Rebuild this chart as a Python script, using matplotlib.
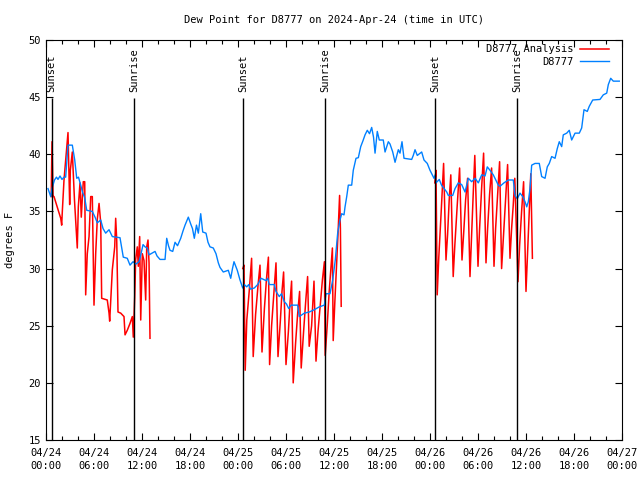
import matplotlib
matplotlib.use("Agg")
import matplotlib.pyplot as plt
import numpy as np

# hours since 2024-04-24 00:00 UTC
obs_hours = [0.25, 0.59, 0.75, 1.06, 1.31, 1.5, 1.75, 2.0, 2.25, 2.46, 2.75, 3.29, 3.59, 3.84,
             4.06, 4.34, 4.56, 4.84, 5.09, 5.79, 6.13, 6.41, 6.84, 7.13, 7.46, 7.88, 8.29, 9.25,
             9.66, 10.16, 10.5, 10.88, 11.25, 11.63, 11.88, 12.13, 12.38, 12.66, 12.88, 13.63,
             13.88, 14.25, 14.88, 15.09, 15.31, 15.5, 15.84, 16.13, 16.44, 16.84, 17.13, 17.38,
             17.79, 18.09, 18.31, 18.54, 18.81, 19.04, 19.34, 19.59, 20.0, 20.25, 20.5, 20.91,
             21.25, 21.54, 21.75, 22.16, 22.79, 23.09, 23.31, 23.5, 23.91, 24.25, 24.59, 24.79,
             25.09, 25.34, 25.56, 26.04, 26.46, 26.88, 27.5, 27.71, 27.91, 28.54, 28.75, 29.16,
             29.44, 29.79, 30.06, 30.34, 30.63, 31.46, 31.66, 32.29, 32.91, 33.54, 34.16, 34.79,
             35.0, 35.5, 35.84, 36.16, 36.46, 36.75, 36.96, 37.25, 37.38, 37.59, 37.79, 38.21,
             38.41, 38.75, 39.04, 39.34, 39.63, 39.88, 40.16, 40.44, 40.71, 40.94, 41.13, 41.41,
             41.66, 42.16, 42.38, 42.79, 43.0, 43.34, 43.63, 44.04, 44.25, 44.5, 44.75, 45.71,
             45.91, 46.13, 46.41, 46.96, 47.25, 47.66, 48.0, 48.5, 48.66, 48.75, 49.16, 49.44,
             50.09, 50.29, 50.84, 51.13, 51.54, 51.96, 52.38, 52.79, 53.21, 53.63, 54.04, 54.46,
             54.88, 55.16, 55.5, 55.91, 56.54, 56.75, 57.25, 57.79, 58.41, 58.63, 58.91, 59.25,
             59.59, 59.88, 60.09, 60.29, 60.5, 60.71, 61.13, 61.34, 61.66, 61.96, 62.38, 62.66,
             62.91, 63.21, 63.63, 63.91, 64.16, 64.46, 64.66, 65.09, 65.41, 65.71, 66.13, 66.66,
             66.96, 67.25, 67.66, 67.91, 68.34, 69.25, 69.66, 70.09, 70.29, 70.59, 70.91, 71.66]
obs_dewpt = [37.0, 36.3, 37.0, 37.75, 38.0, 37.8, 38.1, 37.8, 38.0, 38.0, 40.8, 40.8, 39.5, 37.9,
             38.0, 37.3, 36.7, 36.2, 35.1, 35.0, 34.5, 34.0, 34.25, 33.5, 33.1, 33.4, 32.8, 32.7,
             31.0, 30.9, 30.3, 30.6, 30.4, 30.6, 31.3, 32.1, 31.9, 31.8, 31.2, 31.5,
             31.1, 30.8, 30.8, 32.65, 32.0, 31.6, 31.5, 32.3, 32.0, 32.65, 33.3, 33.8,
             34.5, 33.9, 33.5, 32.65, 33.8, 33.1, 34.8, 33.2, 33.1, 32.3, 31.9, 31.8,
             31.3, 30.5, 30.1, 29.7, 29.85, 29.15, 30.0, 30.6, 29.85, 29.0, 28.3, 28.6,
             28.4, 28.6, 28.2, 28.3, 28.6, 29.15, 28.95, 29.15, 28.6, 28.6, 28.0, 27.55,
             27.8, 27.1, 26.9, 26.5, 26.8, 26.8, 25.8, 26.1, 26.2, 26.4, 26.65, 26.8,
             27.8, 27.8, 29.0, 30.75, 33.1, 34.25, 34.8, 34.7, 35.4, 36.3, 37.3, 37.3,
             38.6, 39.65, 39.7, 40.67, 41.2, 41.7, 42.1, 41.8, 42.35, 41.5, 40.1, 42.0,
             41.25, 41.25, 40.2, 41.1, 40.9, 40.2, 39.3, 40.4, 40.1, 41.1, 39.65, 39.55,
             39.9, 40.4, 39.9, 40.2, 39.5, 39.2, 38.6, 37.9, 38.2, 37.5, 37.8, 37.3,
             36.7, 36.4, 36.4, 37.0, 37.5, 37.35, 36.7, 37.9, 37.6, 37.9, 37.5, 38.2,
             38.1, 38.9, 38.6, 38.2, 37.3, 37.2, 37.5, 37.75, 37.75, 36.4, 36.1, 36.6,
             36.3, 35.85, 35.4, 35.85, 37.0, 39.05, 39.2, 39.2, 39.2, 38.05, 37.9, 38.9,
             39.2, 39.8, 39.65, 40.5, 41.1, 40.67, 41.7, 41.85, 42.1, 41.25, 41.85, 41.85,
             42.3, 43.9, 43.75, 44.2, 44.75, 44.8, 45.2, 45.35, 46.1, 46.65, 46.4, 46.4]

# analysis series, three separate runs (NaN = gap)
ana_hours = [0.65, 0.75, 0.88, 1.0, 1.84, 1.96, 2.04, 2.25, 2.54, 2.75, 2.96, 3.04, 3.29, 3.56,
             3.91, 4.04, 4.25, 4.41, 4.66, 4.84, 4.96, 5.16, 5.38, 5.59, 5.79, 6.0, 6.21, 6.41,
             6.63, 6.84, 6.96, 7.66, 7.88, 7.96, 8.29, 8.59, 8.71, 8.84, 9.0, 9.34, 9.75, 9.88,
             10.16, 10.5, 10.79, 10.91, 11.09, 11.21, 11.41, 11.54, 11.71, 11.84, 12.04, 12.25,
             12.46, 12.59, 12.75, 12.88, 13.0,
             18.0,
             24.6, 24.75, 24.9, 25.1, 25.4, 25.7, 25.9, 26.2, 26.5, 26.75, 27.0, 27.3, 27.55,
             27.8, 27.95, 28.2, 28.5, 28.75, 29.0, 29.3, 29.5, 29.7, 30.0, 30.3, 30.5, 30.7,
             30.9, 31.2, 31.45, 31.7, 31.9, 32.2, 32.45, 32.7, 32.9, 33.2, 33.5, 33.75, 34.0,
             34.3, 34.55, 34.8, 34.9, 35.15, 35.4, 35.8, 35.9, 36.1, 36.3, 36.5, 36.7, 36.8, 36.9,
             42.0,
             48.6, 48.75, 48.9, 49.1, 49.4, 49.7, 50.0, 50.2, 50.4, 50.6, 50.9, 51.1, 51.4, 51.7,
             52.0, 52.2, 52.45, 52.7, 53.0, 53.2, 53.4, 53.6, 54.0, 54.2, 54.45, 54.7, 55.0,
             55.2, 55.45, 55.7, 56.0, 56.2, 56.45, 56.7, 56.95, 57.2, 57.45, 57.7, 58.0, 58.2,
             58.4, 58.6, 59.0, 59.2, 59.45, 59.7, 60.0, 60.2, 60.4, 60.6, 60.8]
ana_dewpt = [36.3, 41.1, 36.3, 36.3, 34.4, 33.8, 35.0, 37.75, 40.1, 41.9, 35.6, 38.6, 40.2, 36.0,
             31.8, 35.4, 37.5, 34.5, 37.6, 37.6, 27.7, 31.3, 32.8, 36.3, 36.3, 26.8, 31.3, 34.3,
             35.7, 34.0, 27.4, 27.25, 26.1, 25.4, 29.9, 31.9, 34.4, 32.5, 26.2, 26.1, 25.8, 24.2,
             24.6, 25.2, 25.8, 24.0, 27.5, 30.8, 31.9, 30.2, 32.8, 25.5, 31.3, 30.7,
             27.25, 31.9, 32.5, 30.5, 23.9,
             np.nan,
             30.0, 30.3, 21.1, 25.5, 28.0, 30.9, 22.3, 26.0, 28.5, 30.3, 22.7, 26.5, 29.0,
             31.0, 21.6, 25.0, 28.0, 30.5, 22.3, 25.5, 28.0, 29.7, 21.6, 24.5, 27.0, 28.9,
             20.0, 23.5, 26.0, 28.0, 21.3, 24.5, 27.0, 29.3, 23.2, 25.0, 28.9, 21.9, 24.5,
             27.0, 29.0, 30.6, 22.4, 25.0, 28.0, 31.8, 23.7, 27.0, 30.0, 33.0, 36.4, 33.5, 26.7,
             np.nan,
             37.5, 38.6, 27.7, 31.0, 35.0, 39.2, 30.75, 33.0, 36.0, 38.2, 29.3, 32.0, 35.5, 38.8,
             30.75, 33.0, 36.0, 37.9, 29.3, 33.0, 36.5, 39.9, 30.2, 33.5, 37.0, 40.1, 30.5,
             33.5, 36.5, 38.8, 30.2, 33.5, 36.5, 39.35, 30.0, 33.0, 36.0, 39.1, 30.9, 33.5,
             35.5, 37.9, 28.85, 32.0, 35.0, 37.6, 28.0, 31.5, 35.0, 38.3, 30.9]

sun_hours = [0.71, 11.04, 24.67, 34.92, 48.67, 58.92]
sun_labels = ["Sunset", "Sunrise", "Sunset", "Sunrise", "Sunset", "Sunrise"]

tick_hours = list(range(0, 73, 6))
tick_labels = ["04/24\n00:00", "04/24\n06:00", "04/24\n12:00", "04/24\n18:00",
               "04/25\n00:00", "04/25\n06:00", "04/25\n12:00", "04/25\n18:00",
               "04/26\n00:00", "04/26\n06:00", "04/26\n12:00", "04/26\n18:00",
               "04/27\n00:00"]

plt.rcParams["font.family"] = "DejaVu Sans Mono"
plt.rcParams["font.size"] = 7.5

fig = plt.figure(figsize=(6.4, 4.8), dpi=100)
ax = fig.add_axes([46 / 640, 40 / 480, 576 / 640, 400 / 480])

ax.plot(ana_hours, ana_dewpt, color="#ff0000", lw=1.1, label="D8777 Analysis")
ax.plot(obs_hours, obs_dewpt, color="#0080ff", lw=1.0, label="D8777")

for h, lab in zip(sun_hours, sun_labels):
    ax.vlines(h, 15, 44.9, color="black", lw=1.0)
    ax.text(h, 45.45, lab, rotation=90, ha="center", va="bottom")

ax.set_xlim(0, 72)
ax.set_ylim(15, 50)
ax.set_xticks(tick_hours)
ax.set_xticklabels(tick_labels, linespacing=1.35)
ax.set_xticks(range(0, 73, 2), minor=True)
ax.set_yticks(range(15, 51, 5))
ax.tick_params(which="both", direction="in", top=True, right=True)
ax.tick_params(which="major", length=5, width=0.8)
ax.tick_params(which="minor", length=3, width=0.8)
ax.tick_params(axis="x", pad=6)

ax.set_title("Dew Point for D8777 on 2024-Apr-24 (time in UTC)", fontsize=7.5, pad=12)
ax.set_ylabel("degrees F", labelpad=10)

ax.legend(loc="upper right", frameon=False, markerfirst=False, handlelength=2.8,
          borderaxespad=0.1, borderpad=0.3, labelspacing=0.25, handletextpad=0.6,
          bbox_to_anchor=(0.985, 1.0))

fig.savefig("out.png", dpi=100)
